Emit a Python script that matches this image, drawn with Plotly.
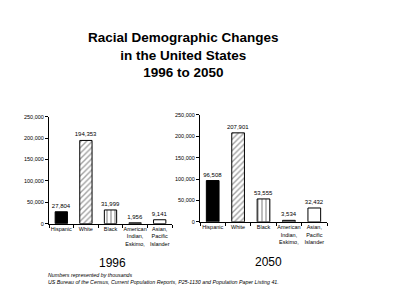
import plotly.graph_objects as go

categories = ["Hispanic", "White", "Black", "American<br>Indian,<br>Eskimo,", "Asian,<br>Pacific<br>Islander"]
values_1996 = [27804, 194353, 31999, 1956, 9141]
values_2050 = [96508, 207901, 53555, 3534, 32432]
labels_1996 = ["27,804", "194,353", "31,999", "1,956", "9,141"]
labels_2050 = ["96,508", "207,901", "53,555", "3,534", "32,432"]
y_ticks = [0, 50000, 100000, 150000, 200000, 250000]
y_ticktext = ["0", "50,000", "100,000", "150,000", "200,000", "250,000"]

FONT = "Liberation Sans, Arial, sans-serif"
colors = ["black", "white", "white", "white", "white"]
shapes = ["", "/", "|", "-", ""]

fig = go.Figure()
for vals, labs, xa in [(values_1996, labels_1996, "x"), (values_2050, labels_2050, "x2")]:
    fig.add_trace(go.Bar(
        x=categories, y=vals, text=labs, textposition="outside", constraintext="none",
        textfont=dict(size=6, color="black", family=FONT),
        cliponaxis=False, xaxis=xa, yaxis="y" if xa == "x" else "y2",
        width=0.5,
        marker=dict(color=colors, line=dict(color="black", width=1),
                    pattern=dict(shape=shapes, fgcolor="black", bgcolor="white",
                                 size=4, solidity=0.35)),
        showlegend=False,
    ))

axis_common = dict(showline=True, linecolor="black", linewidth=1, ticks="outside",
                   ticklen=3, tickcolor="black", showgrid=False, zeroline=False,
                   tickangle=0,
                   tickfont=dict(size=5.5, family=FONT, color="black"))
fig.update_layout(
    width=400, height=305, margin=dict(l=0, r=0, t=0, b=0),
    paper_bgcolor="white", plot_bgcolor="white",
    font=dict(family=FONT, color="black"),
    xaxis=dict(domain=[0.1225, 0.43], anchor="y", tickson="boundaries", **axis_common),
    xaxis2=dict(domain=[0.5, 0.8175], anchor="y2", tickson="boundaries", **axis_common),
    yaxis=dict(domain=[0.262, 0.62], anchor="x", range=[0, 250000], tickvals=y_ticks,
               ticktext=y_ticktext, **axis_common),
    yaxis2=dict(domain=[0.268, 0.626], anchor="x2", range=[0, 250000], tickvals=y_ticks,
                ticktext=y_ticktext, **axis_common),
)

def ann(text, px, py, size, xanchor="center", align="center"):
    fig.add_annotation(text=text, x=px / 400, y=1 - py / 305, xref="paper", yref="paper",
                       xanchor=xanchor, yanchor="middle", showarrow=False, align=align,
                       font=dict(size=size, family=FONT, color="black"))

ann("<b>Racial Demographic Changes<br>in the United States<br>1996 to 2050</b>", 183, 53, 13.5)
ann("1996", 112, 265, 12)
ann("2050", 268, 264, 12)
ann("<i>Numbers represented by thousands</i>", 46, 277, 5.3, xanchor="left")
ann("<i>US Bureau of the Census, Current Population Reports, P25-1130 and Population Paper Listing 41.</i>",
    46, 285, 5.3, xanchor="left")

fig.write_html("out.html")
